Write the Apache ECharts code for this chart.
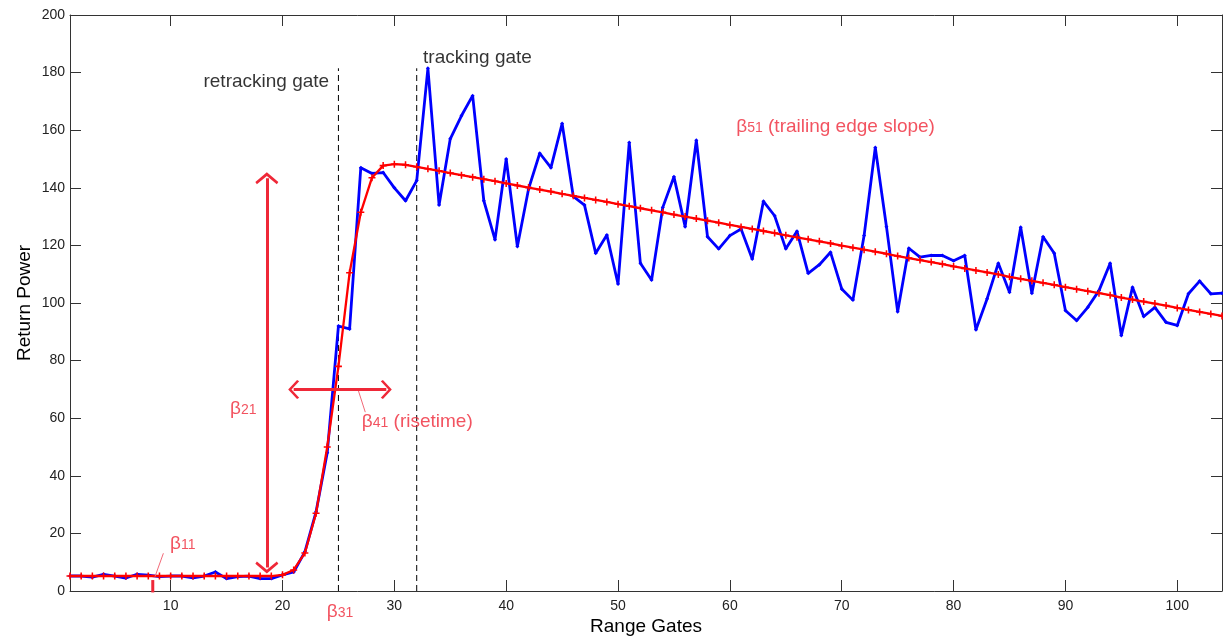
<!DOCTYPE html>
<html>
<head>
<meta charset="utf-8">
<title>Waveform retracking</title>
<script src="https://cdn.jsdelivr.net/npm/echarts@6/dist/echarts.min.js"></script>
<style>
  html, body { margin: 0; padding: 0; background: #fff; }
  #chart { width: 1223px; height: 638px; }
</style>
</head>
<body>
<div id="chart"></div>
<script>
// Range gate index (1..104)
const gates = Array.from({ length: 104 }, (_, i) => i + 1);

// Measured return power per gate
const returnPower = [
  5.2, 5.2, 4.8, 5.8, 5.2, 4.5, 5.8, 5.5, 5.0, 5.2,
  5.2, 4.6, 5.2, 6.6, 4.3, 5.0, 5.2, 4.3, 4.3, 5.6,
  6.6, 13.6, 27.5, 48, 92, 91, 147, 145, 145.3, 140,
  135.5, 142.5, 181.5, 134, 157, 165, 172, 135.5, 122, 150,
  119.6, 139.6, 152, 147, 162.3, 137, 134, 117.3, 123.6, 106.6,
  155.7, 113.8, 108, 133.2, 143.8, 126.5, 156.5, 123, 118.8, 123.4,
  125.7, 115.3, 135.3, 130.3, 118.8, 124.9, 110.3, 113.3, 117.6, 104.9,
  101, 123.4, 154, 126.5, 97, 119, 115.9, 116.5, 116.5, 114.7,
  116.5, 90.7, 101.5, 113.8, 103.7, 126.3, 103.4, 123, 117.3, 97.4,
  93.9, 98.5, 104.3, 113.8, 88.7, 105.5, 95.3, 98.5, 93.3, 92.2,
  103.2, 107.6, 103.2, 103.4
];

// Fitted waveform model per gate
const fittedPower = [
  5.2, 5.2, 5.2, 5.2, 5.2, 5.2, 5.2, 5.2, 5.2, 5.2,
  5.2, 5.2, 5.2, 5.2, 5.2, 5.2, 5.2, 5.2, 5.2, 5.6,
  7.3, 13.2, 27, 50, 78, 110.5, 131.5, 143.5, 147.7, 148.2,
  148, 147.3, 146.6, 145.9, 145.1, 144.4, 143.7, 143.0, 142.3, 141.5,
  140.8, 140.1, 139.4, 138.7, 137.9, 137.2, 136.5, 135.8, 135.1, 134.3,
  133.6, 132.9, 132.2, 131.5, 130.7, 130.0, 129.3, 128.6, 127.9, 127.1,
  126.4, 125.7, 125.0, 124.3, 123.5, 122.8, 122.1, 121.4, 120.7, 119.9,
  119.2, 118.5, 117.8, 117.1, 116.3, 115.6, 114.9, 114.2, 113.5, 112.7,
  112.0, 111.3, 110.6, 109.9, 109.1, 108.4, 107.7, 107.0, 106.3, 105.5,
  104.8, 104.1, 103.4, 102.7, 101.9, 101.2, 100.5, 99.8, 99.1, 98.3,
  97.6, 96.9, 96.2, 95.5
];

// Axis ticks
const gateTicks = [10, 20, 30, 40, 50, 60, 70, 80, 90, 100];
const powerTicks = [0, 20, 40, 60, 80, 100, 120, 140, 160, 180, 200];

// Retracking / tracking gate markers
const retrackingGate = 25;
const trackingGate = 32;
const gateLineTop = 181.5;

// Parameter arrows (data units)
const amplitudeArrow = [[18.6, 8.2], [18.6, 143.3]];
const risetimeArrow = [[21.0, 70], [29.28, 70]];
const beta11Leader = [[8.6, 5], [9.35, 13.1]];
const beta11Tick = [[8.4, -0.5], [8.4, 3.8]];
const beta41Leader = [[26.78, 69.6], [27.4, 62.1]];

const RED = '#ef2838';
const FONT = 'Liberation Sans, Arial, sans-serif';

// open arrowhead, apex pointing along the line
const chevron = 'path://M0,0L12,9.5L10.4,11.8L0,3.6L-10.4,11.8L-12,9.5Z';

const chart = echarts.init(document.getElementById('chart'), null, { renderer: 'canvas' });

const axisLineStyle = { color: '#333', width: 1 };

function paramLabel(pos, text, align) {
  return {
    value: pos,
    label: {
      show: true,
      position: [0, 0],
      align: align,
      verticalAlign: 'middle',
      formatter: text,
      rich: {
        g: { fontSize: 19, color: RED, fontFamily: FONT, verticalAlign: 'bottom' },
        s: { fontSize: 14, color: RED, fontFamily: FONT, verticalAlign: 'bottom', padding: [0, 0, 1, 0] },
        k: { fontSize: 19, color: '#000', fontFamily: FONT }
      }
    }
  };
}

const option = {
  animation: false,
  backgroundColor: '#fff',
  grid: { left: 70, right: 1, top: 15, bottom: 47, containLabel: false, outerBoundsMode: 'none' },
  xAxis: [
    {
      type: 'value', min: 1, max: 104, position: 'bottom',
      axisLine: { show: true, onZero: false, lineStyle: axisLineStyle },
      axisTick: { show: true, inside: true, length: 11, customValues: gateTicks, lineStyle: axisLineStyle },
      axisLabel: { customValues: gateTicks, fontSize: 14, color: '#222', margin: 8, fontFamily: FONT },
      splitLine: { show: false },
      name: 'Range Gates', nameLocation: 'middle', nameGap: 26, nameMoveOverlap: false,
      nameTextStyle: { fontSize: 19, color: '#000', fontFamily: FONT }
    },
    {
      type: 'value', min: 1, max: 104, position: 'top',
      axisLine: { show: true, onZero: false, lineStyle: axisLineStyle },
      axisTick: { show: true, inside: true, length: 11, customValues: gateTicks, lineStyle: axisLineStyle },
      axisLabel: { show: false },
      splitLine: { show: false }
    }
  ],
  yAxis: [
    {
      type: 'value', min: 0, max: 200, interval: 20, position: 'left',
      axisLine: { show: true, onZero: false, lineStyle: axisLineStyle },
      axisTick: { show: true, inside: true, length: 11, lineStyle: axisLineStyle },
      axisLabel: { fontSize: 14, color: '#222', margin: 5, fontFamily: FONT,
        formatter: v => powerTicks.includes(v) ? String(v) : '' },
      splitLine: { show: false },
      name: 'Return Power', nameLocation: 'middle', nameGap: 36, nameRotate: 90, nameMoveOverlap: false,
      nameTextStyle: { fontSize: 19, color: '#000', fontFamily: FONT }
    },
    {
      type: 'value', min: 0, max: 200, interval: 20, position: 'right',
      axisLine: { show: true, onZero: false, lineStyle: axisLineStyle },
      axisTick: { show: true, inside: true, length: 11, lineStyle: axisLineStyle },
      axisLabel: { show: false },
      splitLine: { show: false }
    }
  ],
  series: [
    {
      name: 'retracking gate line', type: 'line', silent: true,
      data: [[retrackingGate, 0], [retrackingGate, gateLineTop]],
      symbol: 'none', lineStyle: { color: '#000', width: 1, type: [6, 4] }, z: 1
    },
    {
      name: 'tracking gate line', type: 'line', silent: true,
      data: [[trackingGate, 0], [trackingGate, gateLineTop]],
      symbol: 'none', lineStyle: { color: '#000', width: 1, type: [6, 4] }, z: 1
    },
    {
      name: 'Return power', type: 'line',
      data: gates.map((g, i) => [g, returnPower[i]]),
      symbol: 'diamond', symbolSize: 4, showSymbol: true,
      itemStyle: { color: '#0000ff' },
      lineStyle: { color: '#0000ff', width: 2.8 }, z: 2
    },
    {
      name: 'Fitted model', type: 'line',
      data: gates.map((g, i) => [g, fittedPower[i]]),
      symbol: 'path://M-1,-0.22H1V0.22H-1Z M-0.22,-1H0.22V1H-0.22Z', symbolSize: 7, showSymbol: true,
      itemStyle: { color: '#ff0000' },
      lineStyle: { color: '#ff0000', width: 2.3 }, z: 3
    },
    {
      name: 'beta11 tick', type: 'line', silent: true, clip: false,
      data: beta11Tick, symbol: 'none', lineStyle: { color: RED, width: 3 }, z: 4
    },
    {
      name: 'beta11 leader', type: 'line', silent: true,
      data: beta11Leader, symbol: 'none', lineStyle: { color: '#f26a78', width: 1 }, z: 4
    },
    {
      name: 'beta41 leader', type: 'line', silent: true,
      data: beta41Leader, symbol: 'none', lineStyle: { color: '#f26a78', width: 1 }, z: 4
    },
    {
      name: 'amplitude arrow', type: 'line', silent: true, data: [],
      markLine: {
        silent: true, animation: false,
        symbol: [chevron, chevron], symbolSize: [23, 12],
        lineStyle: { color: RED, width: 3, type: 'solid' },
        label: { show: false },
        data: [[{ coord: amplitudeArrow[0] }, { coord: amplitudeArrow[1] }]]
      }, z: 5
    },
    {
      name: 'risetime arrow', type: 'line', silent: true, data: [],
      markLine: {
        silent: true, animation: false,
        symbol: [chevron, chevron], symbolSize: [19, 11],
        lineStyle: { color: RED, width: 3, type: 'solid' },
        label: { show: false },
        data: [[{ coord: risetimeArrow[0] }, { coord: risetimeArrow[1] }]]
      }, z: 5
    },
    {
      name: 'labels', type: 'scatter', silent: true, clip: false,
      symbolSize: 0, z: 6,
      data: [
        paramLabel([24.17, 176.9], '{k|retracking gate}', 'right'),
        paramLabel([32.57, 185.1], '{k|tracking gate}', 'left'),
        paramLabel([9.94, 16.5], '{g|β}{s|11}', 'left'),
        paramLabel([15.31, 63.4], '{g|β}{s|21}', 'left'),
        paramLabel([23.96, -7.2], '{g|β}{s|31}', 'left'),
        paramLabel([27.09, 58.7], '{g|β}{s|41}{g| (risetime)}', 'left'),
        paramLabel([60.57, 161.3], '{g|β}{s|51}{g| (trailing edge slope)}', 'left')
      ]
    }
  ]
};

chart.setOption(option);
</script>
</body>
</html>
